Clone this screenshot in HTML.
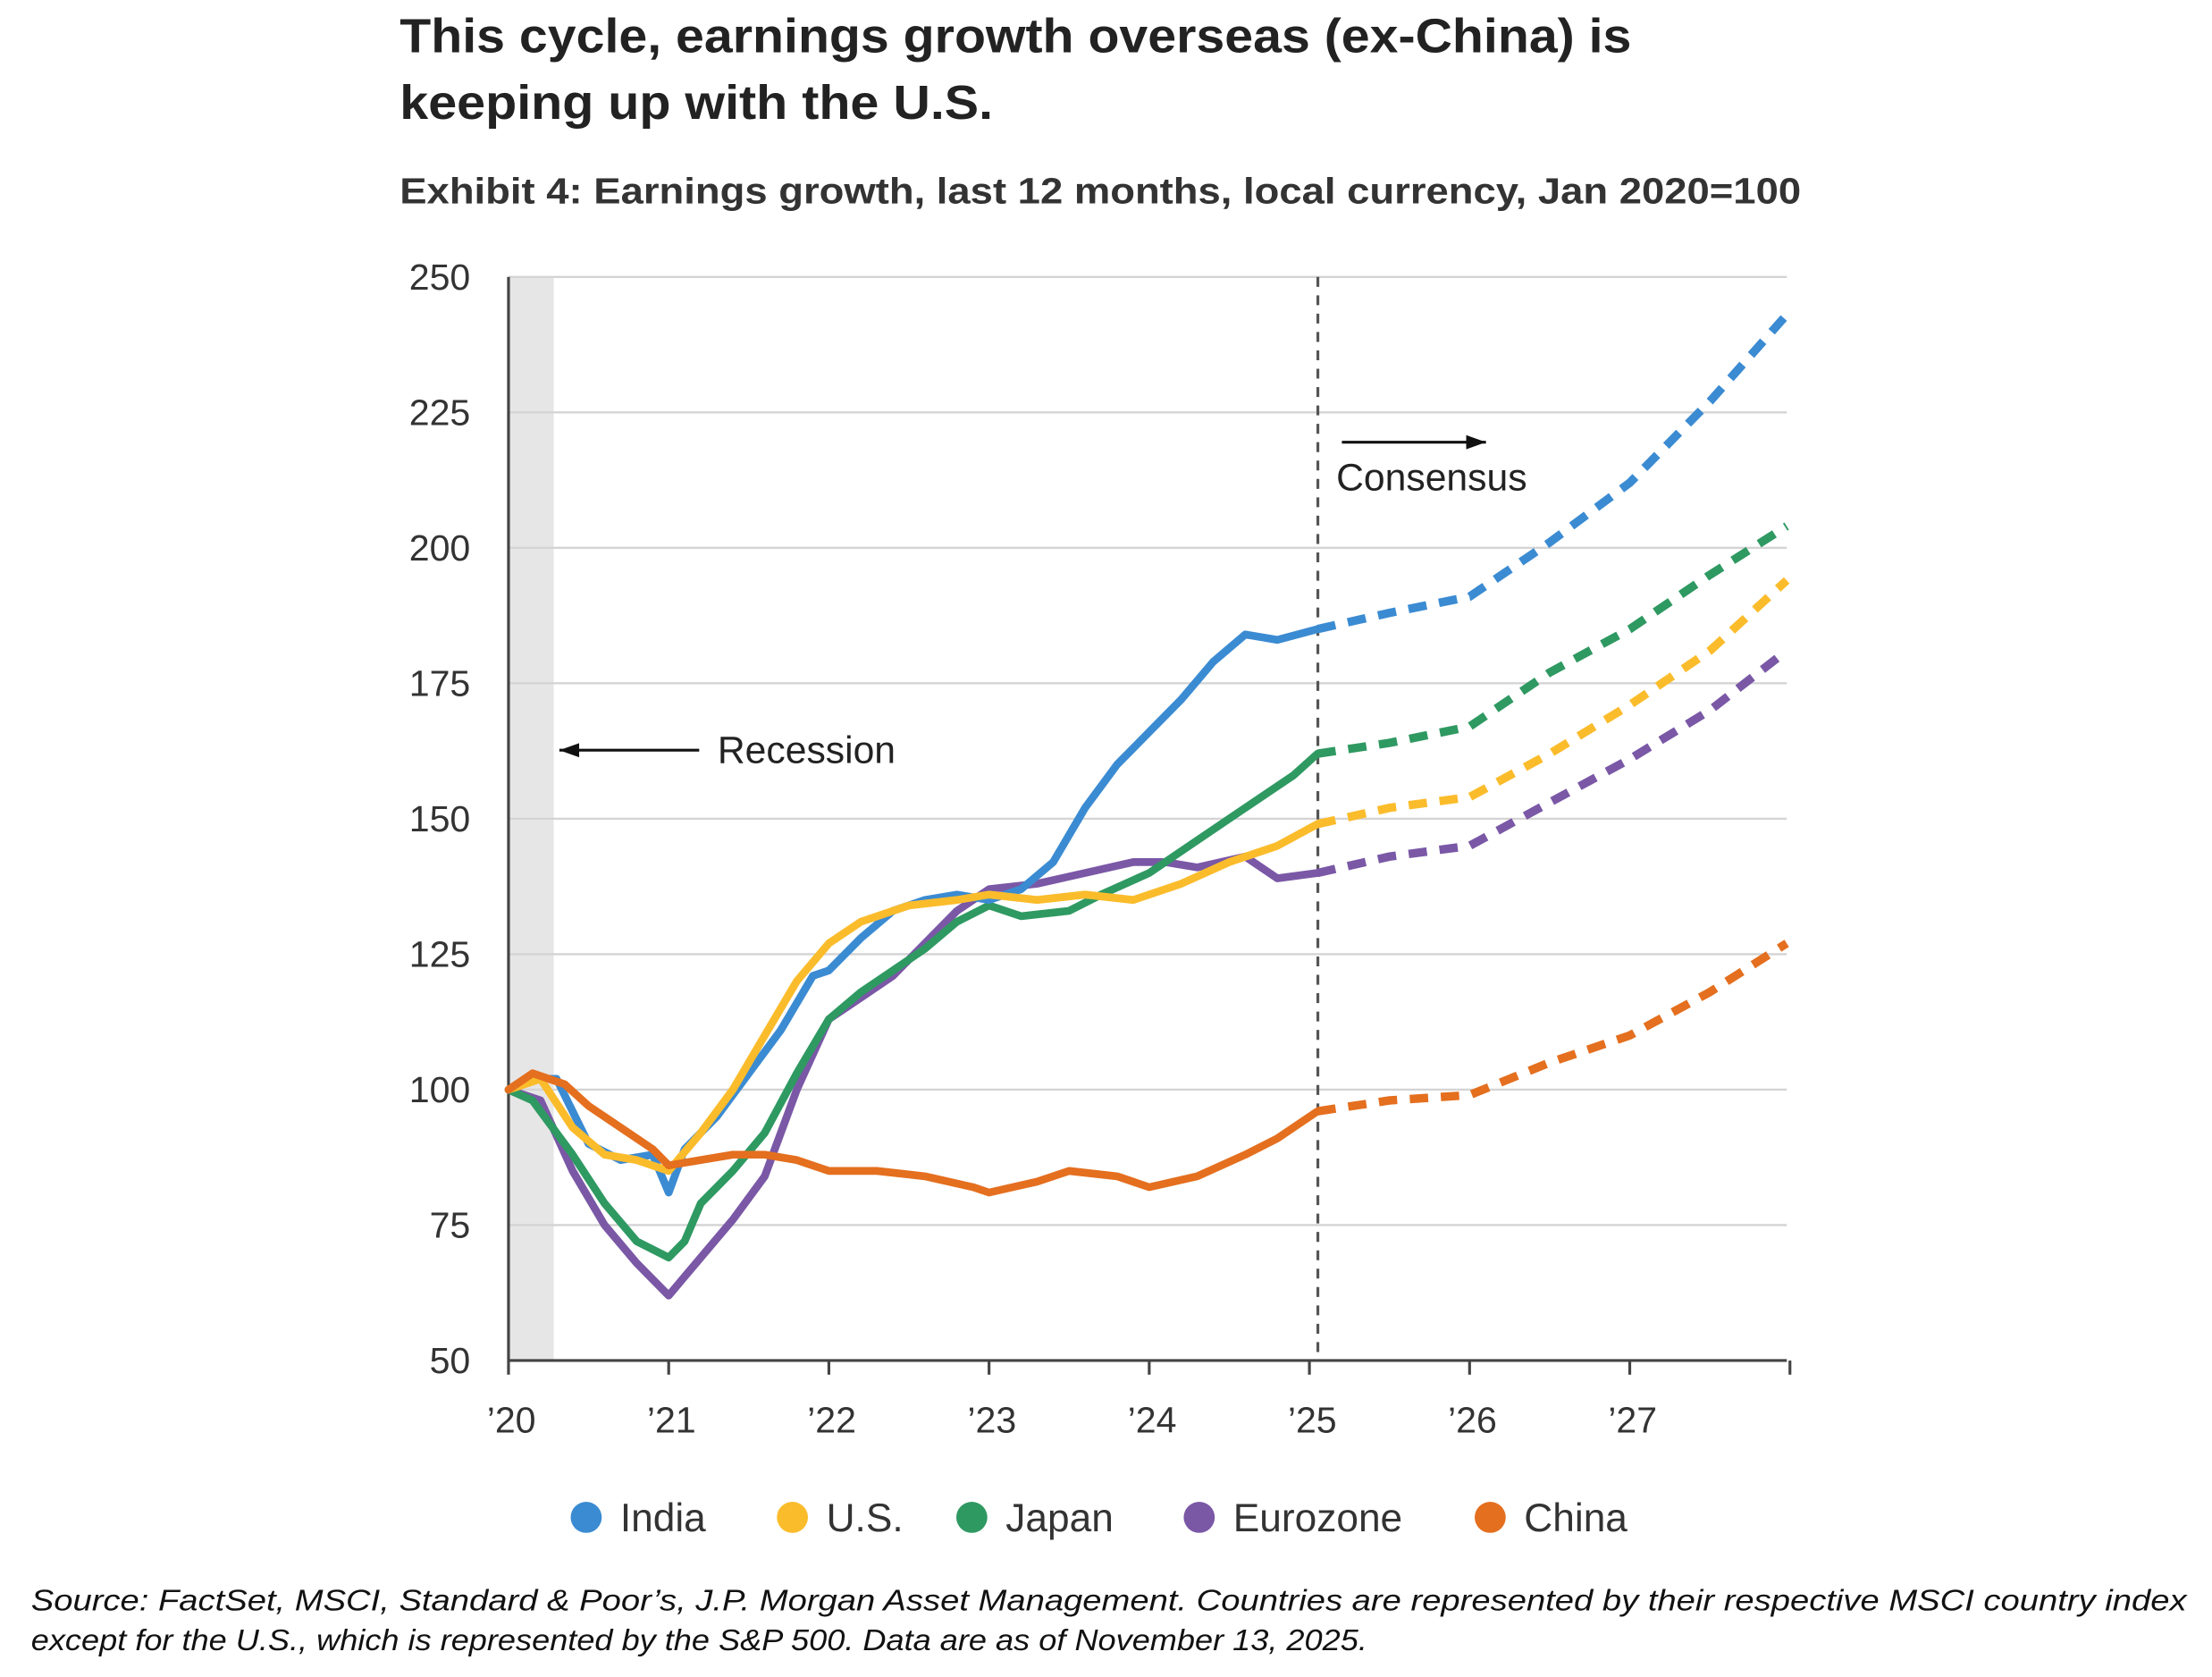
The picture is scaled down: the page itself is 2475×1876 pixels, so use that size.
<!DOCTYPE html>
<html><head><meta charset="utf-8"><style>
html,body{margin:0;padding:0;background:#fff;}
svg{display:block;}
text{font-family:"Liberation Sans",sans-serif;}
</style></head><body>
<svg id="chart" width="2475" height="1876" viewBox="0 0 1566 1187" xmlns="http://www.w3.org/2000/svg">
<text x="283" y="37" font-size="34" font-weight="bold" fill="#222" textLength="872" lengthAdjust="spacingAndGlyphs">This cycle, earnings growth overseas (ex-China) is</text>
<text x="283" y="84" font-size="34" font-weight="bold" fill="#222" textLength="420" lengthAdjust="spacingAndGlyphs">keeping up with the U.S.</text>
<text x="283" y="144" font-size="26" font-weight="bold" fill="#333" textLength="992" lengthAdjust="spacingAndGlyphs">Exhibit 4: Earnings growth, last 12 months, local currency, Jan 2020=100</text>
<g id="plot"></g>
<text x="22" y="1140" font-size="21" font-style="italic" fill="#111" textLength="1526" lengthAdjust="spacingAndGlyphs">Source: FactSet, MSCI, Standard &amp; Poor’s, J.P. Morgan Asset Management. Countries are represented by their respective MSCI country index</text>
<text x="22" y="1168" font-size="21" font-style="italic" fill="#111" textLength="946" lengthAdjust="spacingAndGlyphs">except for the U.S., which is represented by the S&amp;P 500. Data are as of November 13, 2025.</text>
</svg>
<script>
const yTicks=[50,75,100,125,150,175,200,225,250];
const xTickLabels=["’20","’21","’22","’23","’24","’25","’26","’27"];
const seriesNames=["India","U.S.","Japan","Eurozone","China"];
const seriesColors=["#3b8bd2","#fbbc2c","#2f9962","#7a58a6","#e46f1f"];
const indiaT=[2020,2020.15,2020.3,2020.5,2020.7,2020.9,2021,2021.1,2021.3,2021.5,2021.7,2021.9,2022,2022.2,2022.4,2022.6,2022.8,2023,2023.2,2023.4,2023.6,2023.8,2024,2024.2,2024.4,2024.6,2024.8,2025.05];
const indiaV=[100,102,102,90,87,88,81,89,95,103,111,121,122,128,133,135,136,135,137,142,152,160,166,172,179,184,183,185];
const indiaFT=[2025.05,2025.5,2026,2026.5,2027,2027.5,2027.98];
const indiaFV=[185,188,191,201,212,227,243];
const usT=[2020,2020.2,2020.4,2020.6,2020.8,2021,2021.2,2021.4,2021.6,2021.8,2022,2022.2,2022.5,2022.8,2023,2023.3,2023.6,2023.9,2024.2,2024.5,2024.8,2025.05];
const usV=[100,102,93,88,87,85,92,100,110,120,127,131,134,135,136,135,136,135,138,142,145,149];
const usFT=[2025.05,2025.5,2026,2026.5,2027,2027.5,2027.98];
const usFV=[149,152,154,162,171,181,194];
const japanT=[2020,2020.15,2020.4,2020.6,2020.8,2021,2021.1,2021.2,2021.4,2021.6,2021.8,2022,2022.2,2022.4,2022.6,2022.8,2023,2023.2,2023.5,2023.7,2024,2024.3,2024.6,2024.9,2025.05];
const japanV=[100,98,88,79,72,69,72,79,85,92,103,113,118,122,126,131,134,132,133,136,140,146,152,158,162];
const japanFT=[2025.05,2025.5,2026,2026.5,2027,2027.5,2027.98];
const japanFV=[162,164,167,177,185,195,204];
const euroT=[2020,2020.2,2020.4,2020.6,2020.8,2021,2021.2,2021.4,2021.6,2021.8,2022,2022.2,2022.4,2022.6,2022.8,2023,2023.3,2023.6,2023.9,2024.1,2024.3,2024.6,2024.8,2025.05];
const euroV=[100,98,85,75,68,62,69,76,84,100,113,117,121,127,133,137,138,140,142,142,141,143,139,140];
const euroFT=[2025.05,2025.5,2026,2026.5,2027,2027.5,2027.98];
const euroFV=[140,143,145,153,161,170,181];
const chinaT=[2020,2020.15,2020.35,2020.5,2020.7,2020.9,2021,2021.2,2021.4,2021.6,2021.8,2022,2022.3,2022.6,2022.9,2023,2023.3,2023.5,2023.8,2024,2024.3,2024.6,2024.8,2025.05];
const chinaV=[100,103,101,97,93,89,86,87,88,88,87,85,85,84,82,81,83,85,84,82,84,88,91,96];
const chinaFT=[2025.05,2025.5,2026,2026.5,2027,2027.5,2027.98];
const chinaFV=[96,98,99,105,110,118,127];

const NS="http://www.w3.org/2000/svg";
const g=document.getElementById('plot');
const X0=360,X1=1265,YR=113.4;
const xs=t=>X0+(t-2020)*YR;
const ys=v=>963-(v-50)*(767/200);
function mk(tag,attrs){const e=document.createElementNS(NS,tag);for(const k in attrs)e.setAttribute(k,attrs[k]);g.appendChild(e);return e;}
let r=mk('rect',{x:X0,y:ys(250),width:32,height:ys(50)-ys(250),fill:'#e6e6e6'});


yTicks.forEach(v=>{
  if(v>50){const l=mk('line',{x1:X0,x2:X1,y1:ys(v),y2:ys(v),stroke:'#d4d4d4','stroke-width':1.5});
  
  }
  const t=mk('text',{x:333,y:ys(v)+9,'text-anchor':'end','font-size':26,fill:'#333'});t.textContent=v;
  
  
});
let ax=mk('line',{x1:X0,x2:X0,y1:ys(250),y2:ys(50),stroke:'#444','stroke-width':2});


let bx=mk('line',{x1:X0,x2:X1,y1:ys(50),y2:ys(50),stroke:'#444','stroke-width':2});


for(let i=0;i<=8;i++){const l=mk('line',{x1:xs(2020+i),x2:xs(2020+i),y1:ys(50),y2:ys(50)+10,stroke:'#444','stroke-width':2});
  
  }
xTickLabels.forEach((s,i)=>{const t=mk('text',{x:xs(2020+i)+2,y:1014,'text-anchor':'middle','font-size':26,fill:'#333'});t.textContent=s;
  
  });
let dv=mk('line',{x1:933,x2:933,y1:ys(250),y2:ys(50),stroke:'#555','stroke-width':2,'stroke-dasharray':'7,6'});


const hist=[[indiaT,indiaV],[usT,usV],[japanT,japanV],[euroT,euroV],[chinaT,chinaV]];
const fc=[[indiaFT,indiaFV],[usFT,usFV],[japanFT,japanFV],[euroFT,euroFV],[chinaFT,chinaFV]];
const order=[3,2,0,1,4];
order.forEach(i=>{
  const p=hist[i][0].map((t,j)=>xs(t).toFixed(1)+','+ys(hist[i][1][j]).toFixed(1)).join(' ');
  const l=mk('polyline',{points:p,fill:'none',stroke:seriesColors[i],'stroke-width':5.5,'stroke-linejoin':'round','stroke-linecap':'round'});
  
  
  const q=fc[i][0].map((t,j)=>xs(t).toFixed(1)+','+ys(fc[i][1][j]).toFixed(1)).join(' ');
  const d=mk('polyline',{points:q,fill:'none',stroke:seriesColors[i],'stroke-width':6,'stroke-dasharray':'13,9'});
  
  
});
function arrow(x1,x2,y,name){const l=mk('line',{x1:x1,x2:x2,y1:y,y2:y,stroke:'#111','stroke-width':2});
  
  
  const dir=x2>x1?1:-1;
  const h=mk('polygon',{points:`${x2},${y} ${x2-dir*14},${y-5} ${x2-dir*14},${y+5}`,fill:'#111'});
  
  }
arrow(495,396,531,'recession-arrow');
arrow(950,1052,313,'consensus-arrow');
let t1=mk('text',{x:508,y:540,'font-size':27,fill:'#222'});t1.textContent='Recession';


let t2=mk('text',{x:946,y:347,'font-size':27,fill:'#222'});t2.textContent='Consensus';


const legX=[415,561,688,849,1055];
seriesNames.forEach((n,i)=>{
  const c=mk('circle',{cx:legX[i],cy:1074,r:11,fill:seriesColors[i]});
  
  
  const t=mk('text',{x:legX[i]+24,y:1084,'font-size':28,fill:'#333'});t.textContent=n;
  
  
});
</script>
</body></html>
